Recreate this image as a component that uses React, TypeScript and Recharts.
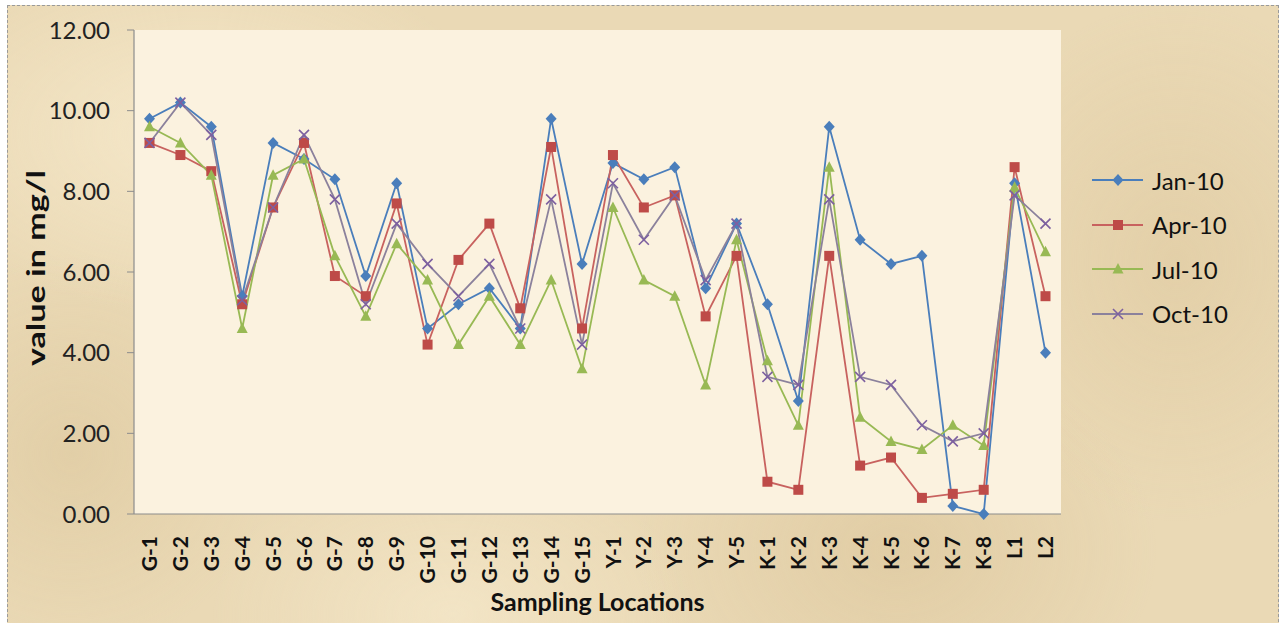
import React from 'react';
import {
  LineChart,
  Line,
  XAxis,
  YAxis,
  CartesianGrid,
  Label,
} from 'recharts';

// sampling stations along the x axis
const locations = [
  'G-1', 'G-2', 'G-3', 'G-4', 'G-5', 'G-6', 'G-7', 'G-8', 'G-9', 'G-10',
  'G-11', 'G-12', 'G-13', 'G-14', 'G-15', 'Y-1', 'Y-2', 'Y-3', 'Y-4', 'Y-5',
  'K-1', 'K-2', 'K-3', 'K-4', 'K-5', 'K-6', 'K-7', 'K-8', 'L1', 'L2',
];

// readings in mg/l per season
const jan10 = [
  9.8, 10.2, 9.6, 5.4, 9.2, 8.8, 8.3, 5.9, 8.2, 4.6,
  5.2, 5.6, 4.6, 9.8, 6.2, 8.7, 8.3, 8.6, 5.6, 7.2,
  5.2, 2.8, 9.6, 6.8, 6.2, 6.4, 0.2, 0.0, 8.2, 4.0,
];
const apr10 = [
  9.2, 8.9, 8.5, 5.2, 7.6, 9.2, 5.9, 5.4, 7.7, 4.2,
  6.3, 7.2, 5.1, 9.1, 4.6, 8.9, 7.6, 7.9, 4.9, 6.4,
  0.8, 0.6, 6.4, 1.2, 1.4, 0.4, 0.5, 0.6, 8.6, 5.4,
];
const jul10 = [
  9.6, 9.2, 8.4, 4.6, 8.4, 8.8, 6.4, 4.9, 6.7, 5.8,
  4.2, 5.4, 4.2, 5.8, 3.6, 7.6, 5.8, 5.4, 3.2, 6.8,
  3.8, 2.2, 8.6, 2.4, 1.8, 1.6, 2.2, 1.7, 8.1, 6.5,
];
const oct10 = [
  9.2, 10.2, 9.4, 5.3, 7.6, 9.4, 7.8, 5.2, 7.2, 6.2,
  5.4, 6.2, 4.6, 7.8, 4.2, 8.2, 6.8, 7.9, 5.8, 7.2,
  3.4, 3.2, 7.8, 3.4, 3.2, 2.2, 1.8, 2.0, 7.9, 7.2,
];

const yTicks = [0, 2, 4, 6, 8, 10, 12];

type Shape = 'diamond' | 'square' | 'triangle' | 'cross';

const series: { key: string; name: string; color: string; line: string; shape: Shape }[] = [
  { key: 'jan', name: 'Jan-10', color: '#4a7ebb', line: '#4a7ebb', shape: 'diamond' },
  { key: 'apr', name: 'Apr-10', color: '#be4b48', line: '#c8625f', shape: 'square' },
  { key: 'jul', name: 'Jul-10', color: '#98b954', line: '#98b954', shape: 'triangle' },
  { key: 'oct', name: 'Oct-10', color: '#7d60a0', line: '#8b819c', shape: 'cross' },
];

const data = locations.map((loc, i) => ({
  loc,
  jan: jan10[i],
  apr: apr10[i],
  jul: jul10[i],
  oct: oct10[i],
}));

const FONT = 'Lato, "Open Sans", sans-serif';

const Marker = ({ cx, cy, shape, color }: { cx: number; cy: number; shape: Shape; color: string }) => {
  if (cx == null || cy == null) return null;
  switch (shape) {
    case 'diamond':
      return <path d={`M${cx},${cy - 6} L${cx + 5.5},${cy} L${cx},${cy + 6} L${cx - 5.5},${cy} Z`} fill={color} />;
    case 'square':
      return <rect x={cx - 5} y={cy - 5} width={10} height={10} fill={color} />;
    case 'triangle':
      return <path d={`M${cx},${cy - 6} L${cx + 5.5},${cy + 4.5} L${cx - 5.5},${cy + 4.5} Z`} fill={color} />;
    default:
      return (
        <path
          d={`M${cx - 5},${cy - 5} L${cx + 5},${cy + 5} M${cx - 5},${cy + 5} L${cx + 5},${cy - 5}`}
          stroke={color}
          strokeWidth={1.6}
          fill="none"
        />
      );
  }
};

const LocationTick = ({ x, y, payload }: any) => (
  <g transform={`translate(${x},${y})`}>
    <text
      transform="rotate(-90)"
      x={-22}
      y={0}
      dy="0.36em"
      textAnchor="end"
      fontFamily={FONT}
      fontWeight={700}
      fontSize={21}
      fill="#111"
    >
      {payload.value}
    </text>
  </g>
);

// legend sits to the right of the plot, outside the chart's layout
const SeasonLegend = () => (
  <div style={{ position: 'absolute', left: 1092, top: 158, fontFamily: FONT, fontSize: 24, color: '#111' }}>
    {series.map((s) => (
      <div key={s.key} style={{ display: 'flex', alignItems: 'center', height: 44.5 }}>
        <svg width={54} height={20} style={{ marginRight: 6 }}>
          <line x1={0} y1={10} x2={51} y2={10} stroke={s.line} strokeWidth={2} />
          <Marker cx={26} cy={10} shape={s.shape} color={s.color} />
        </svg>
        <span>{s.name}</span>
      </div>
    ))}
  </div>
);

const paper =
  'radial-gradient(ellipse 300px 180px at 15% 20%, rgba(250,238,210,0.7), transparent),' +
  'radial-gradient(ellipse 260px 200px at 70% 85%, rgba(214,190,145,0.45), transparent),' +
  'radial-gradient(ellipse 220px 260px at 92% 40%, rgba(220,198,155,0.5), transparent),' +
  'radial-gradient(ellipse 240px 160px at 35% 95%, rgba(248,236,208,0.6), transparent),' +
  'radial-gradient(ellipse 200px 200px at 5% 70%, rgba(216,194,150,0.45), transparent),' +
  '#ead9b5';

export default function App() {
  return (
    <div style={{ position: 'fixed', left: 0, top: 0, width: 1282, height: 623, background: '#fff', overflow: 'hidden' }}>
      <div
        style={{
          position: 'absolute',
          left: 7,
          top: 5,
          width: 1270,
          height: 640,
          border: '1px dashed #9a9a9a',
          background: paper,
        }}
      />
      <div style={{ position: 'absolute', left: 0, top: 0 }}>
        <LineChart width={1282} height={623} data={data} margin={{ top: 30, right: 221, left: 0, bottom: 0 }}>
          <CartesianGrid fill="#fbf2df" stroke="none" horizontal={false} vertical={false} />
          <XAxis
            dataKey="loc"
            interval={0}
            height={109}
            padding={{ left: 15.5, right: 15.5 }}
            tickLine={false}
            tickSize={0}
            tickMargin={0}
            axisLine={{ stroke: '#8c8c8c', strokeWidth: 1.2 }}
            tick={<LocationTick />}
          >
            <Label
              content={({ viewBox }: any) => (
                <text
                  x={viewBox.x + viewBox.width / 2}
                  y={611}
                  textAnchor="middle"
                  fontFamily={FONT}
                  fontWeight={700}
                  fontSize={25}
                  fill="#111"
                >
                  Sampling Locations
                </text>
              )}
            />
          </XAxis>
          <XAxis xAxisId="top" dataKey="loc" orientation="top" height={0} tick={false} tickLine={false} axisLine={{ stroke: '#9bbb59', strokeWidth: 1.5 }} />
          <YAxis
            width={134}
            domain={[0, 12]}
            ticks={yTicks}
            tickFormatter={(v: number) => v.toFixed(2)}
            tickSize={7}
            tickMargin={17}
            tickLine={{ stroke: '#8c8c8c' }}
            axisLine={{ stroke: '#8c8c8c', strokeWidth: 1.2 }}
            tick={{ fontFamily: FONT, fontSize: 24, fill: '#222' }}
          >
            <Label
              content={({ viewBox }: any) => (
                <text
                  transform={`translate(35,${viewBox.y + viewBox.height / 2 - 4}) rotate(-90)`}
                  textAnchor="middle"
                  dominantBaseline="central"
                  fontFamily={FONT}
                  fontWeight={700}
                  fontSize={25}
                  textLength={196}
                  lengthAdjust="spacingAndGlyphs"
                  fill="#111"
                >
                  value in mg/l
                </text>
              )}
            />
          </YAxis>
          <YAxis yAxisId="right" orientation="right" width={0} tick={false} tickLine={false} axisLine={{ stroke: '#9bbb59', strokeWidth: 1.5 }} />
          {series.map((s) => (
            <Line
              key={s.key}
              type="linear"
              dataKey={s.key}
              name={s.name}
              stroke={s.line}
              strokeWidth={1.8}
              isAnimationActive={false}
              dot={(p: any) => <Marker key={`${s.key}-${p.index}`} cx={p.cx} cy={p.cy} shape={s.shape} color={s.color} />}
              activeDot={false}
            />
          ))}
        </LineChart>
      </div>
      <SeasonLegend />
    </div>
  );
}
